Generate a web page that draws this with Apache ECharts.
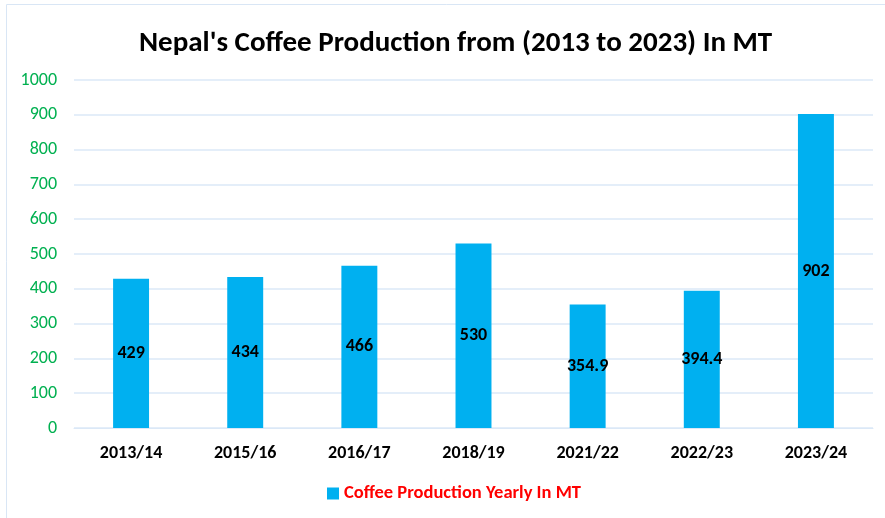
<!DOCTYPE html>
<html>
<head>
<meta charset="utf-8">
<script src="https://cdn.jsdelivr.net/npm/echarts@6/dist/echarts.min.js"></script>
<style>
  html, body { margin: 0; padding: 0; background: #fff; }
  #chart { width: 885px; height: 518px; }
</style>
</head>
<body>
<div id="chart"></div>
<script>
// data
const years = ['2013/14', '2015/16', '2016/17', '2018/19', '2021/22', '2022/23', '2023/24'];
const production = [429, 434, 466, 530, 354.9, 394.4, 902];
const seriesName = 'Coffee Production Yearly In MT';

const font = 'Carlito, "Liberation Sans Narrow", "Open Sans", sans-serif';

const chart = echarts.init(document.getElementById('chart'));
chart.setOption({
  animation: false,
  title: {
    text: "Nepal's Coffee Production from (2013 to 2023) In MT",
    left: 134,
    top: 24,
    textStyle: { fontFamily: font, fontSize: 29, fontWeight: 'bold', color: '#000' }
  },
  graphic: [{
    type: 'rect',
    shape: { x: 6.5, y: 4.5, width: 890, height: 520 },
    style: { fill: 'none', stroke: '#d9e6f5', lineWidth: 1 }
  }],
  grid: { left: 74, right: 12, top: 80, bottom: 90 },
  legend: {
    bottom: 10,
    left: 322,
    itemWidth: 12,
    itemHeight: 12,
    itemGap: 4,
    icon: 'rect',
    textStyle: { fontFamily: font, fontSize: 18.5, fontWeight: 'bold', color: '#ff0000' },
    data: [seriesName]
  },
  xAxis: {
    type: 'category',
    data: years,
    axisLine: { lineStyle: { color: '#dbe8f7' } },
    axisTick: { show: false },
    axisLabel: { fontFamily: font, fontSize: 18, fontWeight: 'bold', color: '#000', margin: 16 }
  },
  yAxis: {
    type: 'value',
    min: 0,
    max: 1000,
    interval: 100,
    axisLine: { show: false },
    axisTick: { show: false },
    splitLine: { lineStyle: { color: '#dbe8f7', width: 1.5 } },
    axisLabel: { fontFamily: font, fontSize: 18, color: '#00b050', margin: 17, formatter: v => String(v) }
  },
  series: [{
    name: seriesName,
    type: 'bar',
    data: production,
    barWidth: '31.5%',
    itemStyle: { color: '#00b0f0' },
    label: {
      show: true,
      position: 'inside',
      fontFamily: font,
      fontSize: 18,
      fontWeight: 'bold',
      color: '#000'
    }
  }]
});
</script>
</body>
</html>
